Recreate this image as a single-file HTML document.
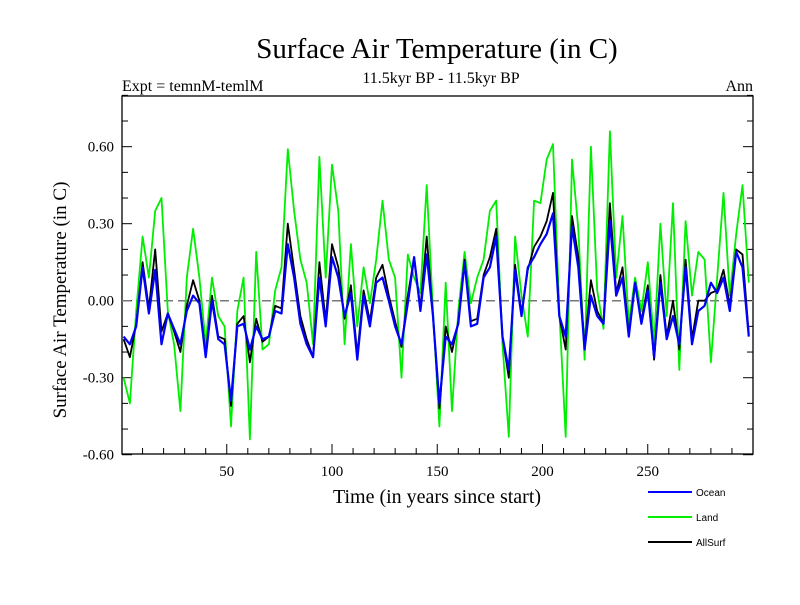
<!DOCTYPE html>
<html><head><meta charset="utf-8"><style>
body{margin:0;background:#fff}
svg text{font-family:"Liberation Serif",serif}
</style></head><body>
<svg id="c" width="800" height="600" xmlns="http://www.w3.org/2000/svg">
<text x="437" y="58" font-size="29" text-anchor="middle">Surface Air Temperature (in C)</text>
<text x="441" y="83" font-size="16" text-anchor="middle">11.5kyr BP - 11.5kyr BP</text>
<text x="122" y="91" font-size="16">Expt = temnM-temlM</text>
<text x="753" y="91" font-size="16" text-anchor="end">Ann</text>
<text transform="translate(66,300) rotate(-90)" font-size="19" text-anchor="middle">Surface Air Temperature (in C)</text>
<text x="437" y="503" font-size="20" text-anchor="middle">Time (in years since start)</text>
<g id="plot"></g>
<g id="legend"></g>
</svg>
<script>
const years=[1,4,7,10,13,16,19,22,25,28,31,34,37,40,43,46,49,52,55,58,61,64,67,70,73,76,79,82,85,88,91,94,97,100,103,106,109,112,115,118,121,124,127,130,133,136,139,142,145,148,151,154,157,160,163,166,169,172,175,178,181,184,187,190,193,196,199,202,205,208,211,214,217,220,223,226,229,232,235,238,241,244,247,250,253,256,259,262,265,268,271,274,277,280,283,286,289,292,295,298];
const ocean=[-0.14,-0.17,-0.10,0.13,-0.05,0.12,-0.17,-0.05,-0.11,-0.17,-0.04,0.02,-0.01,-0.22,0.00,-0.15,-0.17,-0.39,-0.10,-0.09,-0.19,-0.10,-0.15,-0.14,-0.04,-0.05,0.22,0.09,-0.09,-0.17,-0.22,0.09,-0.10,0.17,0.09,-0.06,0.03,-0.23,0.02,-0.10,0.07,0.09,0.00,-0.10,-0.17,-0.01,0.17,-0.04,0.18,-0.06,-0.40,-0.14,-0.17,-0.09,0.15,-0.10,-0.09,0.09,0.13,0.25,-0.14,-0.27,0.12,-0.06,0.13,0.17,0.22,0.26,0.34,-0.06,-0.14,0.29,0.13,-0.19,0.02,-0.06,-0.09,0.31,0.02,0.09,-0.14,0.07,-0.09,0.04,-0.22,0.07,-0.15,-0.06,-0.17,0.13,-0.17,-0.04,-0.02,0.07,0.03,0.09,-0.04,0.19,0.13,-0.14];
const land=[-0.30,-0.40,-0.04,0.25,0.09,0.35,0.40,-0.04,-0.17,-0.43,0.09,0.28,0.09,-0.17,0.09,-0.06,-0.10,-0.49,-0.04,0.09,-0.54,0.19,-0.19,-0.17,0.04,0.13,0.59,0.35,0.16,0.07,-0.17,0.56,0.09,0.53,0.35,-0.17,0.22,-0.10,0.13,-0.01,0.16,0.39,0.16,0.09,-0.30,0.18,0.09,0.03,0.45,-0.04,-0.49,0.07,-0.43,-0.04,0.19,-0.01,0.09,0.16,0.35,0.39,-0.17,-0.53,0.25,0.02,-0.14,0.39,0.38,0.55,0.61,-0.04,-0.53,0.55,0.28,-0.23,0.60,0.04,-0.11,0.66,0.09,0.33,-0.09,0.09,-0.04,0.15,-0.17,0.30,-0.06,0.38,-0.27,0.31,0.02,0.19,0.16,-0.24,0.09,0.42,0.02,0.26,0.45,0.07];
const allsurf=[-0.15,-0.22,-0.09,0.15,-0.03,0.20,-0.12,-0.05,-0.12,-0.20,-0.02,0.08,0.00,-0.21,0.02,-0.14,-0.15,-0.41,-0.09,-0.06,-0.24,-0.07,-0.16,-0.14,-0.02,-0.03,0.30,0.12,-0.06,-0.15,-0.22,0.15,-0.08,0.22,0.13,-0.07,0.06,-0.21,0.04,-0.08,0.09,0.14,0.02,-0.08,-0.18,0.02,0.17,-0.03,0.25,-0.06,-0.42,-0.10,-0.20,-0.08,0.16,-0.08,-0.07,0.10,0.17,0.28,-0.14,-0.30,0.14,-0.05,0.12,0.21,0.25,0.31,0.42,-0.06,-0.19,0.33,0.17,-0.18,0.08,-0.04,-0.09,0.38,0.03,0.13,-0.13,0.07,-0.08,0.06,-0.23,0.10,-0.14,0.00,-0.19,0.16,-0.15,0.00,0.00,0.03,0.04,0.12,-0.02,0.20,0.18,-0.13];
const yTicks=[0.6,0.3,0,-0.3,-0.6];
const yTickLabels=["0.60","0.30","0.00","-0.30","-0.60"];
const xTicks=[50,100,150,200,250];
const seriesNames=["Ocean","Land","AllSurf"];

const NS="http://www.w3.org/2000/svg";
const L=122,R=753,T=96,B=454;
const xs=v=>121.5+v*2.105;
const ys=v=>300.7-v*256.7;
const g=document.getElementById('plot');
function mk(t,a,p){const e=document.createElementNS(NS,t);for(const k in a)e.setAttribute(k,a[k]);(p||g).appendChild(e);return e;}
const fr=mk('rect',{x:L,y:T,width:R-L,height:B-T,fill:'none',stroke:'#000','stroke-width':1.3});


for(let v=-0.6;v<=0.801;v+=0.1){const y=ys(v);const big=yTicks.some(t=>Math.abs(t-v)<1e-6);const len=big?10:6;
 const a=mk('line',{x1:L,x2:L+len,y1:y,y2:y,stroke:'#000','stroke-width':1});
 
 
 const b=mk('line',{x1:R,x2:R-len,y1:y,y2:y,stroke:'#000','stroke-width':1});
 
 }
yTicks.forEach((v,i)=>{const t=mk('text',{x:L-8,y:ys(v)+5,'font-size':15,'text-anchor':'end'});t.textContent=yTickLabels[i];
 
 });
for(let v=10;v<300;v+=10){const x=xs(v);const big=v%50===0;const len=big?10:6;
 const a=mk('line',{x1:x,x2:x,y1:B,y2:B-len,stroke:'#000','stroke-width':1});
 
 }
xTicks.forEach(v=>{const t=mk('text',{x:xs(v),y:B+22,'font-size':15,'text-anchor':'middle'});t.textContent=v;
 
 });
const zl=mk('line',{x1:L,x2:R,y1:ys(0),y2:ys(0),stroke:'#777','stroke-width':1.5,'stroke-dasharray':'9,5'});


function line(arr,col,w,name){const d=arr.map((v,i)=>(i?'L':'M')+xs(years[i]).toFixed(1)+','+ys(v).toFixed(1)).join('');
 const p=mk('path',{d:d,fill:'none',stroke:col,'stroke-width':w,'stroke-linejoin':'round'});
 
 }
line(land,'#00ee00',1.8,'land-series');
line(allsurf,'#000',1.8,'allsurf-series');
line(ocean,'#0000ff',2.2,'ocean-series');
const lg=document.getElementById('legend');const cols=['#0000ff','#00ee00','#000'];
seriesNames.forEach((n,i)=>{const y=492+i*25;
 const l=mk('line',{x1:648,x2:692,y1:y,y2:y,stroke:cols[i],'stroke-width':2},lg);
 
 
 const t=mk('text',{x:696,y:y+4,'font-size':10,style:'font-family:"Liberation Sans",sans-serif'},lg);t.textContent=n;
 
 });
</script>
</body></html>
